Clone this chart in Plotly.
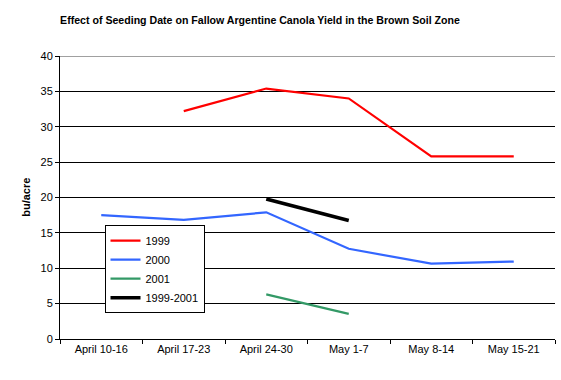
import plotly.graph_objects as go

categories = ["April 10-16", "April 17-23", "April 24-30", "May 1-7", "May 8-14", "May 15-21"]
y1999 = [None, 32.2, 35.4, 34.0, 25.8, 25.8]
y2000 = [17.5, 16.85, 17.9, 12.75, 10.65, 10.95]
y2001 = [None, None, 6.3, 3.55, None, None]
y9901 = [None, None, 19.8, 16.75, None, None]
yticks = [0, 5, 10, 15, 20, 25, 30, 35, 40]

FONT = "Arial, Liberation Sans, sans-serif"
L, R, T, B = 60, 6, 55.5, 41
PW, PH = 561 - L - R, 380 - T - B

fig = go.Figure()
series = [
    ("1999", y1999, "#FF0000", 2.2),
    ("2000", y2000, "#3366FF", 2.2),
    ("2001", y2001, "#339966", 2.2),
    ("1999-2001", y9901, "#000000", 3.6),
]
for name, ys, col, w in series:
    fig.add_trace(go.Scatter(x=categories, y=ys, name=name, mode="lines",
                             line=dict(color=col, width=w), connectgaps=False))

fig.update_layout(
    width=561, height=380,
    margin=dict(l=L, r=R, t=T, b=B, autoexpand=False),
    paper_bgcolor="white", plot_bgcolor="white",
    font=dict(family=FONT, size=11, color="black"),
    title=dict(text="<b>Effect of Seeding Date on Fallow Argentine Canola Yield in the Brown Soil Zone</b>",
               font=dict(family=FONT, size=10.6, color="black"),
               x=260/561, xanchor="center", xref="container",
               y=1-20/380, yanchor="middle", yref="container"),
    showlegend=True,
    legend=dict(x=(104.5-L)/PW, y=(339-225)/PH, xanchor="left", yanchor="top",
                bgcolor="white", bordercolor="black", borderwidth=1,
                font=dict(family=FONT, size=11, color="black"),
                itemwidth=30, tracegroupgap=0),
    xaxis=dict(type="category", range=[-0.5, 5.5], showgrid=False, automargin=False,
               showline=True, linecolor="black", linewidth=1,
               ticks="outside", tickson="boundaries", ticklen=4, tickcolor="black",
               tickfont=dict(family=FONT, size=11, color="black"), fixedrange=True),
    yaxis=dict(range=[0, 40], tickvals=yticks, showgrid=True, gridcolor="black", gridwidth=1,
               showline=True, linecolor="black", linewidth=1, zeroline=False, automargin=False,
               ticks="outside", ticklen=4, tickcolor="black",
               tickfont=dict(family=FONT, size=11, color="black"),
               fixedrange=True),
)
fig.add_annotation(text="<b>bu/acre</b>", textangle=-90, xref="paper", yref="paper",
                   x=(26.5-L)/PW, y=(339-197)/PH, xanchor="center", yanchor="middle",
                   showarrow=False, font=dict(family=FONT, size=11, color="black"))
fig.add_shape(type="line", xref="paper", yref="y", x0=0, x1=1, y0=40, y1=40,
              line=dict(color="#808080", width=1.5), layer="above")

fig.write_html("out.html", config={"displayModeBar": False},
               post_script="document.body.style.margin='0';document.body.style.overflow='hidden';")
